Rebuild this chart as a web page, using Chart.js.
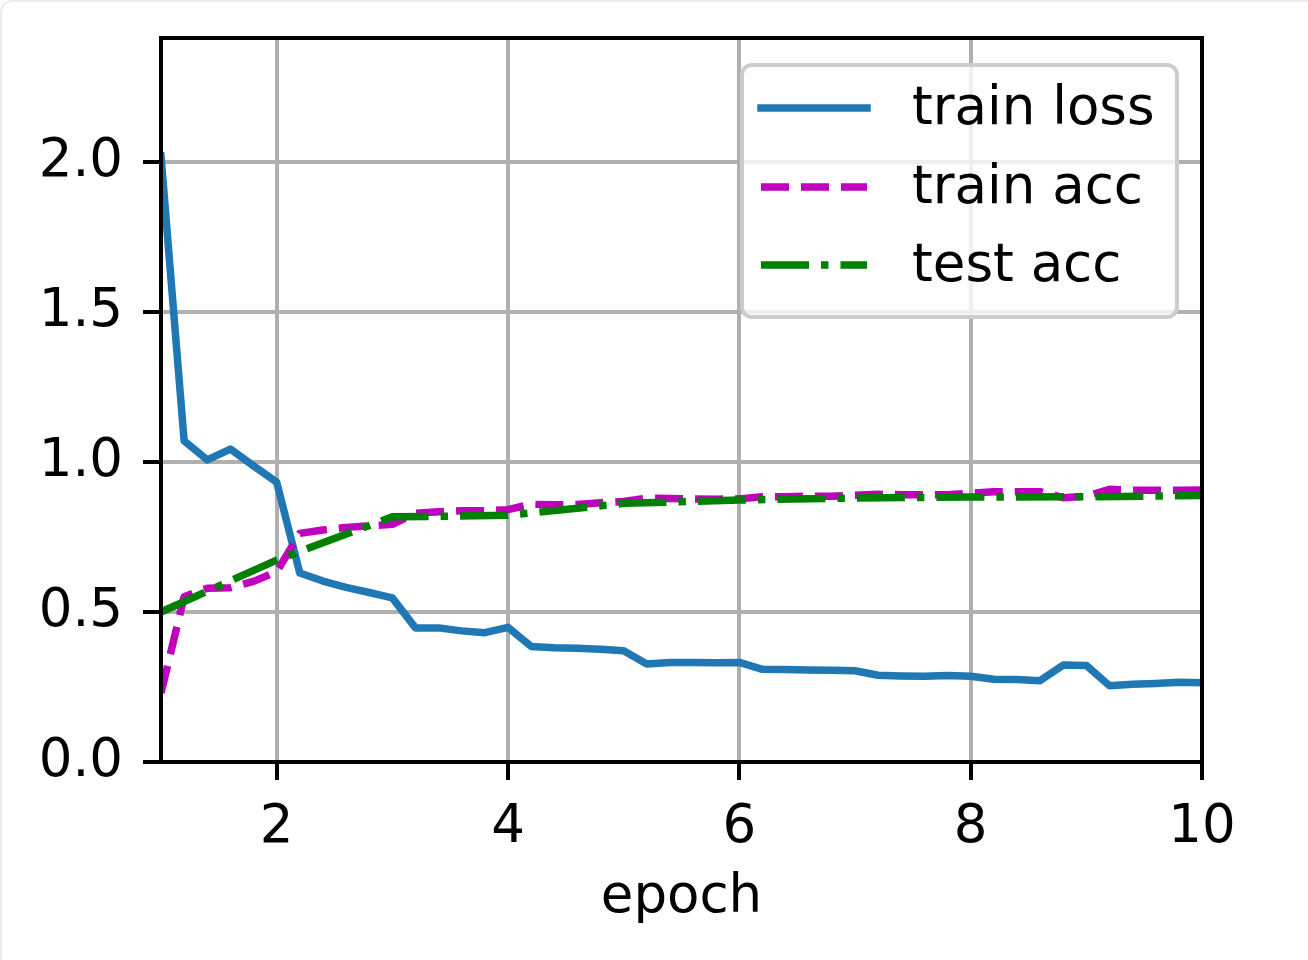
<!DOCTYPE html>
<html>
<head>
<meta charset="utf-8">
<script src="https://cdn.jsdelivr.net/npm/chart.js@4.4.1/dist/chart.umd.min.js"></script>
<style>
  html, body { margin: 0; padding: 0; background: #fff; overflow: hidden; }
  #frame { position: absolute; left: 0; top: 0; width: 1330px; height: 990px;
           border: 2px solid #ececec; border-radius: 12px; }
  #wrap { position: absolute; left: 0; top: 0; width: 1308px; height: 960px; }
</style>
</head>
<body>
<div id="frame"></div>
<div id="wrap"><canvas id="trainChart" width="1308" height="960"></canvas></div>
<script>
const epochs = [1.0, 1.2, 1.4, 1.6, 1.8, 2.0, 2.2, 2.4, 2.6, 2.8,
                3.0, 3.2, 3.4, 3.6, 3.8, 4.0, 4.2, 4.4, 4.6, 4.8,
                5.0, 5.2, 5.4, 5.6, 5.8, 6.0, 6.2, 6.4, 6.6, 6.8,
                7.0, 7.2, 7.4, 7.6, 7.8, 8.0, 8.2, 8.4, 8.6, 8.8,
                9.0, 9.2, 9.4, 9.6, 9.8, 10.0];
const trainLoss = [2.02, 1.07, 1.007, 1.043, 0.987, 0.933, 0.63, 0.603, 0.582, 0.565,
                   0.547, 0.447, 0.447, 0.437, 0.431, 0.449, 0.385, 0.381, 0.379, 0.376,
                   0.371, 0.327, 0.332, 0.332, 0.331, 0.332, 0.309, 0.308, 0.307, 0.306,
                   0.304, 0.289, 0.287, 0.286, 0.288, 0.286, 0.276, 0.275, 0.271, 0.323,
                   0.322, 0.254, 0.259, 0.262, 0.266, 0.264];
const trainAcc = [0.23, 0.551, 0.579, 0.581, 0.602, 0.634, 0.762, 0.773, 0.782, 0.787,
                  0.792, 0.829, 0.834, 0.837, 0.837, 0.841, 0.859, 0.857, 0.858, 0.864,
                  0.868, 0.879, 0.878, 0.877, 0.876, 0.877, 0.884, 0.884, 0.886, 0.886,
                  0.889, 0.892, 0.891, 0.891, 0.891, 0.896, 0.901, 0.901, 0.901, 0.881,
                  0.886, 0.909, 0.906, 0.906, 0.906, 0.907];
const testEpochs = [1, 2, 3, 4, 5, 6, 7, 8, 9, 10];
const testAcc = [0.5, 0.673, 0.817, 0.822, 0.862, 0.873, 0.88, 0.883, 0.884, 0.888];

const xTicks = [2, 4, 6, 8, 10];
const yTicks = [0, 0.5, 1.0, 1.5, 2.0];
const seriesNames = ['train loss', 'train acc', 'test acc'];

const FONT = 'DejaVu Sans';
const FS = 53;

// spines on all four sides, drawn over the lines like matplotlib
const spinesPlugin = {
    id: 'spines',
    afterDatasetsDraw(chart) {
        const a = chart.chartArea;
        const ctx = chart.ctx;
        ctx.save();
        ctx.strokeStyle = '#000';
        ctx.lineWidth = 4;
        ctx.strokeRect(a.left, a.top, a.right - a.left, a.bottom - a.top);
        ctx.restore();
    }
};

// legend box in the upper right corner of the plot
const boxLegend = {
    id: 'boxLegend',
    afterDraw(chart) {
        const ctx = chart.ctx;
        const x0 = 742, y0 = 65, w = 435, h = 252, r = 10;
        ctx.save();
        ctx.beginPath();
        ctx.roundRect(x0, y0, w, h, r);
        ctx.fillStyle = 'rgba(255,255,255,0.8)';
        ctx.fill();
        ctx.lineWidth = 4;
        ctx.strokeStyle = '#cccccc';
        ctx.stroke();

        const rowY = [108, 187, 265];
        chart.data.datasets.forEach((ds, i) => {
            const y = rowY[i];
            ctx.beginPath();
            ctx.setLineDash(ds.borderDash || []);
            ctx.lineCap = ds.borderCapStyle || 'butt';
            ctx.lineWidth = ds.borderWidth;
            ctx.strokeStyle = ds.borderColor;
            ctx.moveTo(761, y);
            ctx.lineTo(867, y);
            ctx.stroke();
            ctx.setLineDash([]);
            ctx.fillStyle = '#000';
            ctx.font = FS + 'px "' + FONT + '"';
            ctx.textBaseline = 'middle';
            ctx.textAlign = 'left';
            ctx.fillText(ds.label, 912, y + 2);
        });
        ctx.restore();
    }
};

const ctx = document.getElementById('trainChart').getContext('2d');
new Chart(ctx, {
    type: 'line',
    data: {
        datasets: [
            {
                label: seriesNames[0],
                data: epochs.map((x, i) => ({ x: x, y: trainLoss[i] })),
                borderColor: '#1f77b4',
                borderWidth: 7.5,
                borderCapStyle: 'square',
                borderJoinStyle: 'round',
                pointRadius: 0,
                tension: 0,
                order: 3
            },
            {
                label: seriesNames[1],
                data: epochs.map((x, i) => ({ x: x, y: trainAcc[i] })),
                borderColor: '#bf00bf',
                borderWidth: 7.5,
                borderDash: [28, 12],
                borderCapStyle: 'butt',
                borderJoinStyle: 'round',
                pointRadius: 0,
                tension: 0,
                order: 2
            },
            {
                label: seriesNames[2],
                data: testEpochs.map((x, i) => ({ x: x, y: testAcc[i] })),
                borderColor: '#008000',
                borderWidth: 7.5,
                borderDash: [48, 12, 7.5, 12],
                borderCapStyle: 'butt',
                borderJoinStyle: 'round',
                pointRadius: 0,
                tension: 0,
                order: 1
            }
        ]
    },
    options: {
        responsive: false,
        animation: false,
        devicePixelRatio: 1,
        layout: {
            padding: { left: 0, top: 38, right: 106, bottom: 0 }
        },
        plugins: {
            legend: { display: false },
            tooltip: { enabled: false }
        },
        scales: {
            x: {
                type: 'linear',
                min: 1,
                max: 10,
                afterBuildTicks: (scale) => { scale.ticks = xTicks.map(v => ({ value: v })); },
                afterFit: (scale) => {
                    scale.height = 198;
                    scale.paddingLeft = 0;
                    scale.paddingRight = 0;
                },
                border: { display: false },
                grid: {
                    color: '#b0b0b0',
                    lineWidth: 4,
                    drawTicks: true,
                    tickLength: 18,
                    tickColor: '#000',
                    tickWidth: 4
                },
                ticks: {
                    color: '#000',
                    padding: 16,
                    maxRotation: 0,
                    autoSkip: false,
                    font: { family: FONT, size: FS },
                    callback: (v) => String(v)
                },
                title: {
                    display: true,
                    text: 'epoch',
                    color: '#000',
                    padding: { top: 0, bottom: 30 },
                    font: { family: FONT, size: FS }
                }
            },
            y: {
                min: 0,
                max: 2.413,
                afterBuildTicks: (scale) => { scale.ticks = yTicks.map(v => ({ value: v })); },
                afterFit: (scale) => {
                    scale.width = 161;
                    scale.paddingTop = 0;
                    scale.paddingBottom = 0;
                },
                border: { display: false },
                grid: {
                    color: '#b0b0b0',
                    lineWidth: 4,
                    drawTicks: true,
                    tickLength: 18,
                    tickColor: '#000',
                    tickWidth: 4
                },
                ticks: {
                    color: '#000',
                    padding: 20,
                    autoSkip: false,
                    font: { family: FONT, size: FS },
                    callback: (v) => Number(v).toFixed(1)
                }
            }
        }
    },
    plugins: [spinesPlugin, boxLegend]
});
</script>
</body>
</html>
